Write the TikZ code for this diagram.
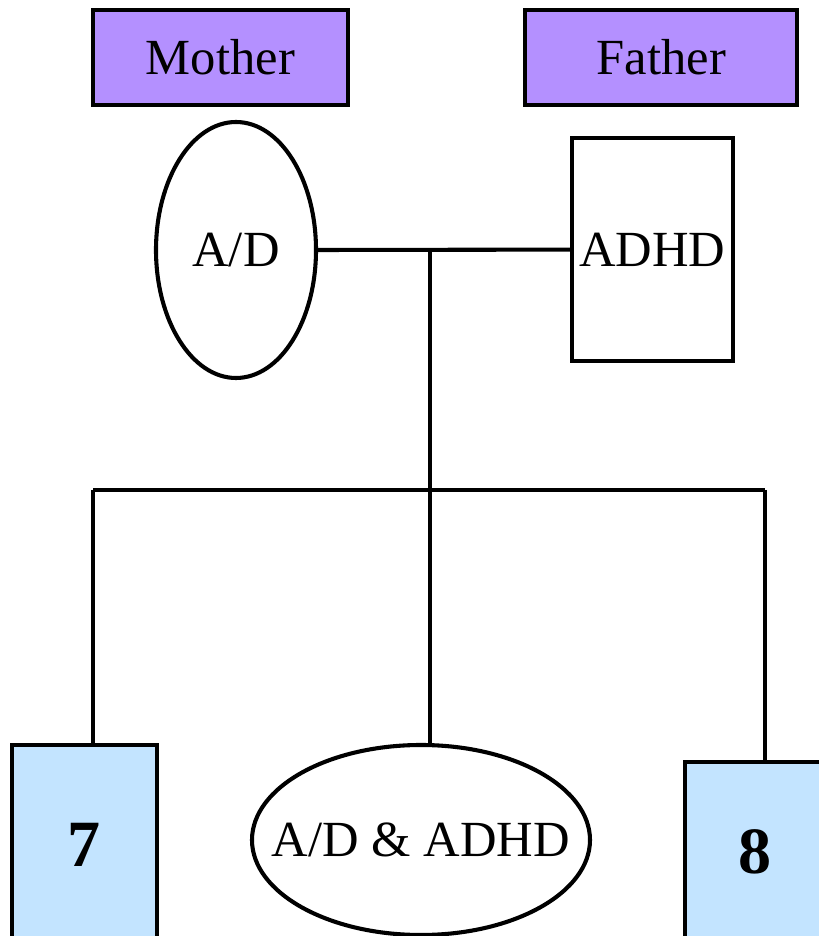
\documentclass[tikz,border=0pt]{standalone}
\usepackage{fontspec}
\setmainfont{Liberation Serif}
\usepackage{tikz}
\usetikzlibrary{shapes.geometric}
\definecolor{tagpurple}{HTML}{B490FF}
\definecolor{kidblue}{HTML}{C3E4FF}

\begin{document}
\begin{tikzpicture}[line width=2.9pt,
    font=\fontsize{36}{40}\selectfont,
    tag/.style={draw,fill=tagpurple,inner sep=0pt,minimum height=2.375cm},
    female/.style={draw,ellipse,inner sep=0pt},
    male/.style={draw,rectangle,inner sep=0pt},
    kid/.style={draw,fill=kidblue,inner sep=0pt,font=\fontsize{47}{50}\selectfont\bfseries}]
  \useasboundingbox (0,0) rectangle (20.475,23.4);
  \clip (0,0) rectangle (20.475,23.4);
  % parents' labels
  \node[tag,minimum width=6.375cm] (mumtag) at (5.51,21.96) {Mother};
  \node[tag,minimum width=6.8cm] (dadtag) at (16.53,21.96) {Father};
  % parents
  \node[female,minimum width=4cm,minimum height=6.4cm] (mum) at (5.9,17.15) {A/D};
  \node[male,minimum width=4.025cm,minimum height=5.575cm] (dad) at (16.31,17.16) {ADHD};
  \draw (mum.east) -- (dad.west);
  % descent line and sibship
  \coordinate (mid) at (10.75,17.15);
  \coordinate (sibL) at (2.325,11.15);
  \coordinate (sibR) at (19.125,11.15);
  % children (boxes run off the page edge)
  \node[kid,minimum width=3.625cm,minimum height=5cm] (kid1) at (2.11,2.275) {7};
  \node[female,minimum width=8.45cm,minimum height=4.75cm] (kid2) at (10.525,2.4)
        {\makebox[0pt]{A/D \& ADHD}};
  \node[kid,minimum width=3.5cm,minimum height=4.5cm] (kid3) at (18.875,2.1) {8};
  \draw (mid) -- (mid |- kid2.north);
  \draw (sibL) -- (sibR);
  \draw (sibL) -- (sibL |- kid1.north);
  \draw (sibR) -- (sibR |- kid3.north);
\end{tikzpicture}
\end{document}
